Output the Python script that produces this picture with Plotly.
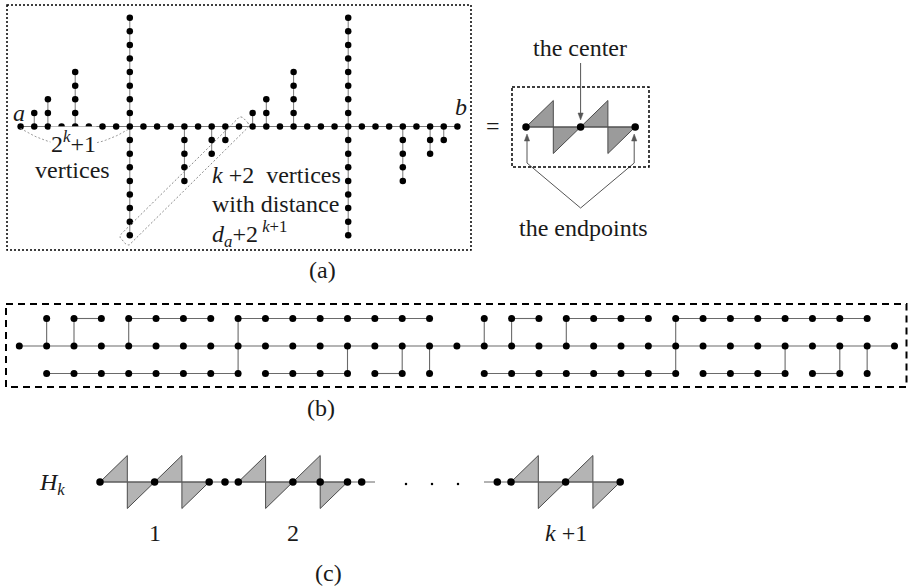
import math
import plotly.graph_objects as go

W, H = 909, 586

# ---------------- data ----------------
# tree shown in (a) and (b): a spine path of 2^(k+2)+1 vertices (k = 3)
SPINE_N = 33
# pendant paths hanging off the spine: spine index, path length, direction (+1 up, -1 down)
PEND_IDX = [1, 2, 4, 8, 8, 12, 14, 15, 17, 18, 20, 24, 24, 28, 30, 31]
PEND_LEN = [1, 2, 4, 8, 8, 4, 2, 1, 1, 2, 4, 8, 8, 4, 2, 1]
PEND_DIR = [1, 1, 1, 1, -1, -1, -1, -1, 1, 1, 1, 1, -1, -1, -1, -1]
# the k+2 vertices at distance d_a + 2^(k+1) (spine index, offset)
HL_IDX = [8, 12, 14, 15, 16]
HL_OFF = [-8, -4, -2, -1, 0]
ARC_FROM, ARC_TO = 0, 8          # the 2^k+1 vertices bracket

# (c): H_k chain labels
C_LABELS = ["1", "2", "<i>k</i> +1"]

# ---------------- layout constants ----------------
FONT = "'Times New Roman', 'Liberation Serif', serif"
FS = 24
TXT = "#1a1a1a"
AX0, ADX, AY0, ADY = 20.6, 13.65, 126.5, 13.6
BX0, BDX, BYM, BDY = 19.3, 27.35, 346.0, 27.5
Q = 27.3       # quarter of a gadget width
TH = 26.5      # triangle height

fig = go.Figure()
shapes = []
annos = []


def apos(i, off):
    return AX0 + ADX * i, AY0 - ADY * off


def bpos(col, row):
    return BX0 + BDX * col, BYM + BDY * row


def add_lines(segs, color, width, dash=None):
    xs, ys = [], []
    for (x1, y1), (x2, y2) in segs:
        xs += [x1, x2, None]
        ys += [y1, y2, None]
    fig.add_trace(go.Scatter(x=xs, y=ys, mode="lines", hoverinfo="skip",
                             line=dict(color=color, width=width, dash=dash)))


def add_dots(pts, size, color="black"):
    fig.add_trace(go.Scatter(x=[p[0] for p in pts], y=[p[1] for p in pts], mode="markers",
                             hoverinfo="skip", marker=dict(size=size, color=color, line=dict(width=0))))


def text(x, y, s, size=FS, anchor="center", italic=False, bg=None):
    annos.append(dict(x=x, y=y, xref="x", yref="y", text=("<i>%s</i>" % s) if italic else s,
                      showarrow=False, xanchor=anchor, yanchor="middle",
                      font=dict(family=FONT, size=size, color=TXT),
                      bgcolor=bg, borderpad=0))


def arrow_head(x, y, direction, color="#555", ln=7, half=2.6):
    # direction: +1 pointing down (towards larger y), -1 pointing up
    p = "M %f %f L %f %f L %f %f Z" % (x, y, x - half, y - direction * ln, x + half, y - direction * ln)
    shapes.append(dict(type="path", path=p, xref="x", yref="y", fillcolor=color,
                       line=dict(color=color, width=0.5)))


def gadget(x0, y0, fill):
    for h in range(2):
        s = x0 + 2 * Q * h
        up = "M %f %f L %f %f L %f %f Z" % (s, y0, s + Q, y0 - TH, s + Q, y0)
        dn = "M %f %f L %f %f L %f %f Z" % (s + Q, y0, s + Q, y0 + TH, s + 2 * Q, y0)
        for p in (up, dn):
            shapes.append(dict(type="path", path=p, xref="x", yref="y", layer="below",
                               fillcolor=fill, line=dict(color="#4a4a4a", width=1)))


# ================= (a) left tree =================
segs = [(apos(0, 0), apos(SPINE_N - 1, 0))]
nodes = [apos(i, 0) for i in range(SPINE_N)]
for i, L, d in zip(PEND_IDX, PEND_LEN, PEND_DIR):
    segs.append((apos(i, 0), apos(i, d * L)))
    nodes += [apos(i, d * j) for j in range(1, L + 1)]
add_lines(segs, "#7a7a7a", 1)
add_dots(nodes, 6.5)

# bracket arc for 2^k+1 vertices
A = apos(ARC_FROM, 0)
B = apos(ARC_TO, 0)
C = ((A[0] + B[0]) / 2, A[1] + 36)
ax, ay = [], []
for t in [j / 40 for j in range(41)]:
    ax.append((1 - t) ** 2 * A[0] + 2 * t * (1 - t) * C[0] + t * t * B[0])
    ay.append((1 - t) ** 2 * (A[1] + 2) + 2 * t * (1 - t) * C[1] + t * t * (B[1] + 2))
fig.add_trace(go.Scatter(x=ax, y=ay, mode="lines", hoverinfo="skip",
                         line=dict(color="#9a9a9a", width=1, dash="2px,2px")))

# rotated rounded box around the k+2 vertices
P1 = apos(HL_IDX[0], HL_OFF[0])
P2 = apos(HL_IDX[-1], HL_OFF[-1])
Ln = math.hypot(P2[0] - P1[0], P2[1] - P1[1])
ux, uy = (P2[0] - P1[0]) / Ln, (P2[1] - P1[1]) / Ln
nx, ny = -uy, ux
ext, hw, r = 9.0, 7.0, 4.0
s0, s1, t0, t1 = -ext, Ln + ext, -hw, hw
loc = []
for cs, ct, a0 in [(s1 - r, t1 - r, 0), (s0 + r, t1 - r, 90), (s0 + r, t0 + r, 180), (s1 - r, t0 + r, 270)]:
    for k in range(7):
        a = math.radians(a0 + 15 * k)
        loc.append((cs + r * math.cos(a), ct + r * math.sin(a)))
loc.append(loc[0])
fig.add_trace(go.Scatter(x=[P1[0] + s * ux + t * nx for s, t in loc],
                         y=[P1[1] + s * uy + t * ny for s, t in loc],
                         mode="lines", hoverinfo="skip",
                         line=dict(color="#8a8a8a", width=1, dash="2px,2px")))

text(A[0] - 2, 113, "a", italic=True)
text(apos(SPINE_N - 1, 0)[0] + 4, 107, "b", italic=True)
text(73, 142, "2<sup><i>k</i></sup>+1", bg="white")
text(72, 170, "vertices")
text(211, 175, "<i>k</i> +2&nbsp;&nbsp;vertices", anchor="left")
text(211, 204, "with distance", anchor="left")
text(211, 234, "<i>d</i><sub><i>a</i></sub>+2<sup> <i>k</i>+1</sup>", anchor="left")
text(322, 270, "(a)")

shapes.append(dict(type="rect", xref="x", yref="y", x0=7, y0=5, x1=471, y1=250,
                   line=dict(color="black", width=1.5, dash="2px,2px")))

# ================= (a) right gadget =================
text(493, 126, "=")
GX, GY = 526, 127
gadget(GX, GY, "#9b9b9b")
add_lines([((GX, GY), (GX + 4 * Q, GY))], "#555", 1)
add_dots([(GX, GY), (GX + 2 * Q, GY), (GX + 4 * Q, GY)], 7.5)
shapes.append(dict(type="rect", xref="x", yref="y", x0=512, y0=87, x1=649, y1=167,
                   line=dict(color="black", width=1.5, dash="3px,2px")))
text(580, 48, "the center")
text(583, 228, "the endpoints")
apex = (GX + 2 * Q, 208)
add_lines([(apex, (GX + 1, 163)), (apex, (GX + 4 * Q - 1, 163)),
           ((GX + 1, 163), (GX + 1, 140)), ((GX + 4 * Q - 1, 163), (GX + 4 * Q - 1, 140)),
           ((GX + 2 * Q, 63), (GX + 2 * Q, 114))], "#555", 1)
arrow_head(GX + 2 * Q, 120, 1)
arrow_head(GX + 1, 134, -1)
arrow_head(GX + 4 * Q - 1, 134, -1)

# ================= (b) folded tree =================
segs = [(bpos(0, 0), bpos(SPINE_N - 1, 0))]
nodes = [bpos(i, 0) for i in range(SPINE_N)]
for i, L, d in zip(PEND_IDX, PEND_LEN, PEND_DIR):
    row = -1 if d > 0 else 1
    segs.append((bpos(i, 0), bpos(i, row)))
    cols = [i + j for j in range(L)] if d > 0 else [i - j for j in range(L)]
    if L > 1:
        segs.append((bpos(min(cols), row), bpos(max(cols), row)))
    nodes += [bpos(c, row) for c in cols]
add_lines(segs, "#6a6a6a", 1.1)
add_dots(nodes, 7)
shapes.append(dict(type="rect", xref="x", yref="y", x0=6, y0=304, x1=906.5, y1=387,
                   line=dict(color="black", width=2, dash="7px,5px")))
text(321, 408, "(b)")

# ================= (c) H_k =================
CY = 482
UX = [100, 238.3, 511]
for x0 in UX:
    gadget(x0, CY, "#b4b4b4")
add_lines([((UX[0], CY), (375, CY)), ((484, CY), (UX[2] + 4 * Q, CY))], "#666", 1)
cdots = []
for x0 in UX:
    cdots += [(x0, CY), (x0 + 2 * Q, CY), (x0 + 4 * Q, CY)]
cdots += [(225, CY), (UX[1] + 3 * Q, CY), (361.7, CY), (497.3, CY)]
add_dots(cdots, 7.5)
add_dots([(406, 484), (432, 484), (458, 484)], 2.5)
for x0, lab in zip(UX, C_LABELS):
    text(x0 + 2 * Q, 533, lab)
text(52, 484, "<i>H</i><sub><i>k</i></sub>")
text(328, 573, "(c)")

fig.update_layout(width=W, height=H, margin=dict(l=0, r=0, t=0, b=0),
                  paper_bgcolor="white", plot_bgcolor="white", showlegend=False,
                  shapes=shapes, annotations=annos,
                  xaxis=dict(range=[0, W], visible=False, fixedrange=True),
                  yaxis=dict(range=[H, 0], visible=False, fixedrange=True))
fig.write_html("out.html", config={"displayModeBar": False},
               post_script="document.body.style.margin='0px';document.body.style.overflow='hidden';")
